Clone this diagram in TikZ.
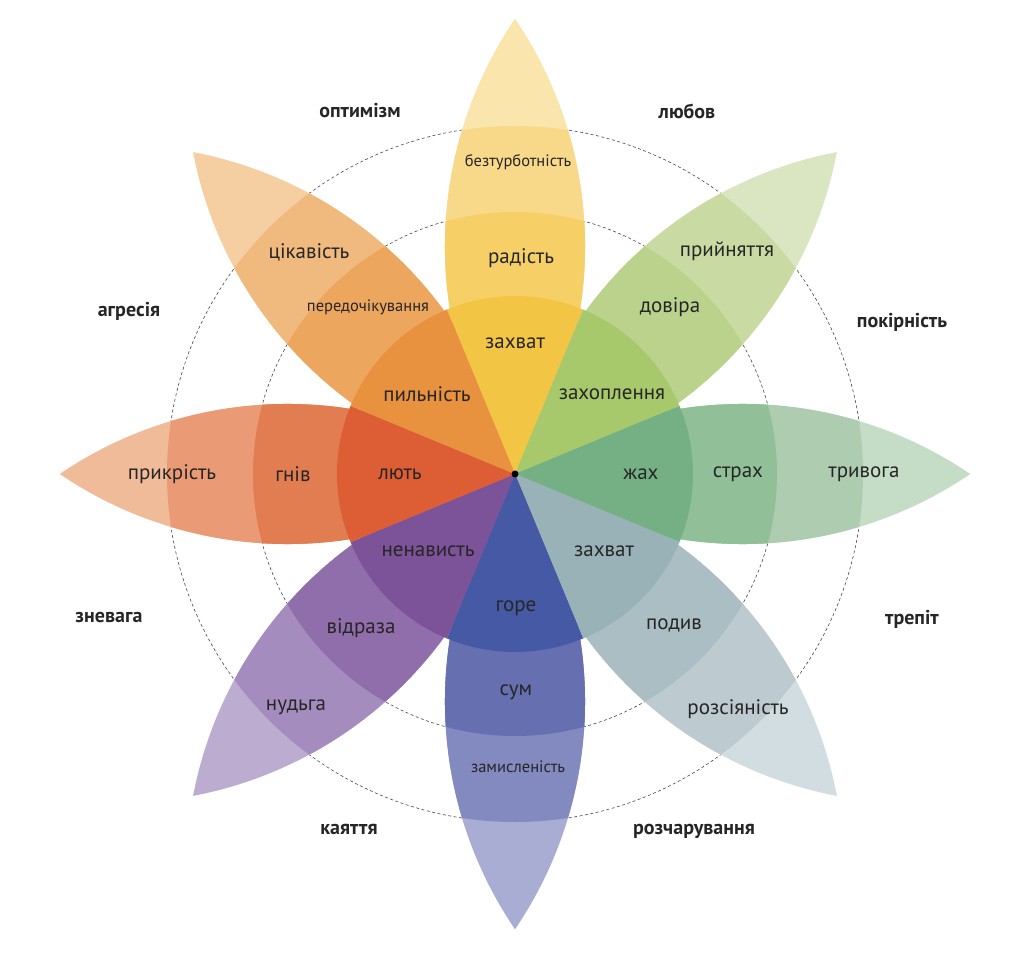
\documentclass[tikz,border=0pt]{standalone}
\usepackage{fontspec}
\setmainfont{PT Sans}
\usepackage{tikz}

\definecolor{ink}{HTML}{262626}
\definecolor{ring}{HTML}{444444}

\definecolor{joyA}{HTML}{FAE5AC}
\definecolor{joyB}{HTML}{F8D98A}
\definecolor{joyC}{HTML}{F6D067}
\definecolor{joyD}{HTML}{F3C545}

\definecolor{trustA}{HTML}{DAE6C1}
\definecolor{trustB}{HTML}{C9DBA3}
\definecolor{trustC}{HTML}{BAD28B}
\definecolor{trustD}{HTML}{A7C96C}

\definecolor{fearA}{HTML}{C5DCC6}
\definecolor{fearB}{HTML}{ADCCB0}
\definecolor{fearC}{HTML}{90BF98}
\definecolor{fearD}{HTML}{74B083}

\definecolor{surpA}{HTML}{D1DDE0}
\definecolor{surpB}{HTML}{BDCBD0}
\definecolor{surpC}{HTML}{AABEC3}
\definecolor{surpD}{HTML}{98B2B8}

\definecolor{sadA}{HTML}{A9ADD3}
\definecolor{sadB}{HTML}{838ABF}
\definecolor{sadC}{HTML}{6670B0}
\definecolor{sadD}{HTML}{4559A5}

\definecolor{disgA}{HTML}{BCACD0}
\definecolor{disgB}{HTML}{A58CBE}
\definecolor{disgC}{HTML}{906DAB}
\definecolor{disgD}{HTML}{7C5298}

\definecolor{angA}{HTML}{F0BB98}
\definecolor{angB}{HTML}{EA9B75}
\definecolor{angC}{HTML}{E27C51}
\definecolor{angD}{HTML}{DD5D35}

\definecolor{antA}{HTML}{F5CFA2}
\definecolor{antB}{HTML}{F0B97E}
\definecolor{antC}{HTML}{EDA65E}
\definecolor{antD}{HTML}{E8913E}

\newcommand{\petal}[4]{%
  \begin{scope}[rotate=#1]
    \clip (0,0) arc[start angle=124.2, end angle=55.8, radius=405pt]
      arc[start angle=-55.8, end angle=-124.2, radius=405pt] -- cycle;
    \fill[#2] (0,0) circle[radius=470pt];
    \fill[#3] (0,0) circle[radius=348pt];
    \fill[#4] (0,0) circle[radius=262pt];
  \end{scope}}
\newcommand{\core}[2]{%
  \fill[#2] (0,0) -- (#1-22.5:178pt)
    arc[start angle=#1-22.5, end angle=#1+22.5, radius=178pt] -- cycle;}

\begin{document}
\begin{tikzpicture}[x=1pt, y=1pt,
  emo/.style={text=ink, font=\fontsize{21}{24}\selectfont},
  emosmall/.style={text=ink, font=\fontsize{16.5}{19}\selectfont},
  dyad/.style={text=ink, font=\bfseries\fontsize{20}{23}\selectfont}]

\useasboundingbox (-515,-478) rectangle (509,474);

\draw [ring, line width=0.6pt, dash pattern=on 3pt off 2.5pt] (0,0) circle[radius=262pt];
\draw [ring, line width=0.6pt, dash pattern=on 3pt off 2.5pt] (0,0) circle[radius=348pt];

\petal{90}{joyA}{joyB}{joyC}
\petal{45}{trustA}{trustB}{trustC}
\petal{0}{fearA}{fearB}{fearC}
\petal{-45}{surpA}{surpB}{surpC}
\petal{-90}{sadA}{sadB}{sadC}
\petal{-135}{disgA}{disgB}{disgC}
\petal{180}{angA}{angB}{angC}
\petal{135}{antA}{antB}{antC}

\core{90}{joyD}
\core{45}{trustD}
\core{0}{fearD}
\core{-45}{surpD}
\core{-90}{sadD}
\core{-135}{disgD}
\core{180}{angD}
\core{135}{antD}

\node [circle, fill=black, inner sep=0pt, minimum size=7pt] (hub) at (0,0) {};

\node [emo] (ecstasy) at (0,131) {захват};
\node [emo] (joy) at (6,216) {радість};
\node [emosmall] (serenity) at (3,312) {безтурботність};

\node [emo] (admiration) at (97,80) {захоплення};
\node [emo] (trust) at (155,167) {довіра};
\node [emo] (acceptance) at (212,223) {прийняття};

\node [emo] (terror) at (126,0) {жах};
\node [emo] (fear) at (223,0) {страх};
\node [emo] (apprehension) at (349,0) {тривога};

\node [emo] (amazement) at (89,-77) {захват};
\node [emo] (surprise) at (159,-151) {подив};
\node [emo] (distraction) at (223,-235) {розсіяність};

\node [emo] (grief) at (1,-134) {горе};
\node [emo] (sadness) at (1,-218) {сум};
\node [emosmall] (pensiveness) at (3,-293) {замисленість};

\node [emo] (loathing) at (-87,-77) {ненависть};
\node [emo] (disgust) at (-154,-154) {відраза};
\node [emo] (boredom) at (-219,-233) {нудьга};

\node [emo] (rage) at (-115,0) {лють};
\node [emo] (anger) at (-222,0) {гнів};
\node [emo] (annoyance) at (-343,0) {прикрість};

\node [emo] (vigilance) at (-88,80) {пильність};
\node [emosmall] (anticipation) at (-147,167) {передочікування};
\node [emo] (interest) at (-206,222) {цікавість};

\node [dyad] (optimism) at (-155,363) {оптимізм};
\node [dyad] (love) at (172,363) {любов};
\node [dyad] (submission) at (387,152) {покірність};
\node [dyad] (awe) at (397,-145) {трепіт};
\node [dyad] (disapproval) at (179,-357) {розчарування};
\node [dyad] (remorse) at (-166,-355) {каяття};
\node [dyad] (contempt) at (-406,-143) {зневага};
\node [dyad] (aggression) at (-386,163) {агресія};

\end{tikzpicture}
\end{document}
